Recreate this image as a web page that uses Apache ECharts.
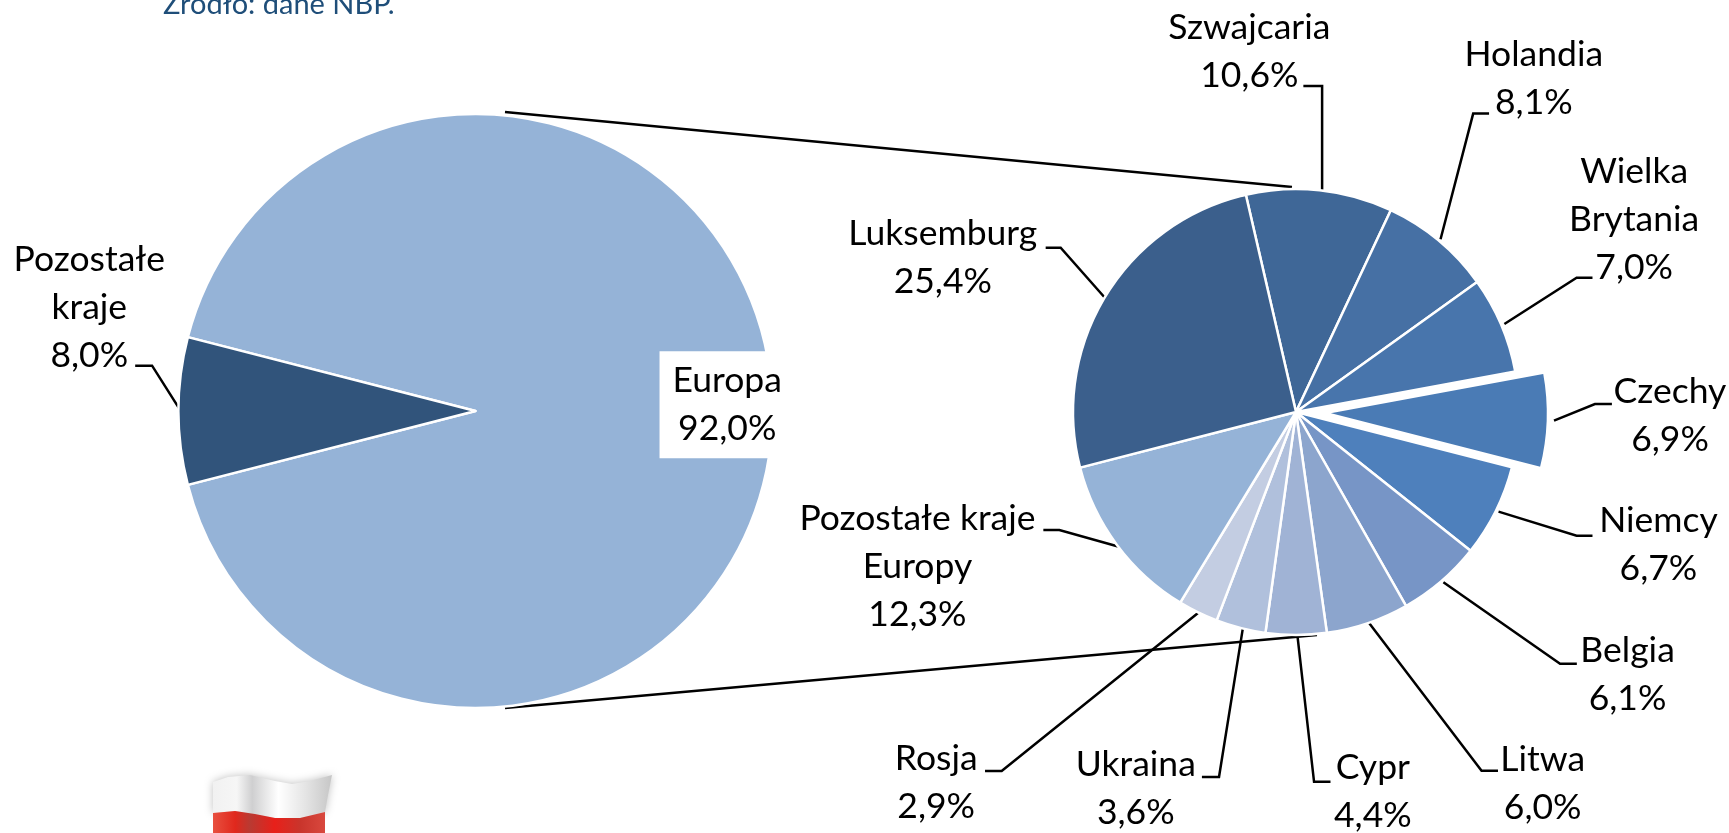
<!DOCTYPE html>
<html>
<head>
<meta charset="utf-8">
<style>html,body{margin:0;padding:0;background:#fff}#c{width:1729px;height:833px}</style>
<script src="https://cdn.jsdelivr.net/npm/echarts@6/dist/echarts.min.js"></script>
</head>
<body>
<div id="c"></div>
<script>
// ---- data ----
const overviewNames = ['Europa', 'Pozostałe\nkraje'];
const overviewValues = [92.0, 8.0];
const overviewColors = ['#95B3D7', '#31547B'];

const europeNames = ['Szwajcaria', 'Holandia', 'Wielka\nBrytania', 'Czechy', 'Niemcy', 'Belgia', 'Litwa', 'Cypr', 'Ukraina', 'Rosja', 'Pozostałe kraje\nEuropy', 'Luksemburg'];
const europeValues = [10.6, 8.1, 7.0, 6.9, 6.7, 6.1, 6.0, 4.4, 3.6, 2.9, 12.3, 25.4];
const europeColors = ['#3F6797', '#4670A4', '#4875AC', '#4A7BB5', '#4E80BC', '#7795C6', '#8CA5CD', '#A0B3D5', '#B0C0DC', '#C3CDE2', '#95B3D7', '#3B5F8C'];
const explodedName = 'Czechy';
const sourceNote = 'Źródło: dane NBP.';

// ---- layout of annotations (px) ----
const FONT = 'Lato, "Open Sans", sans-serif';
const K = 1729 / 1568;
const P = (a) => a.map(p => [p[0] * K, p[1] * K]);
const overviewLabels = [
  { c: [659.5, 367], line: null },
  { c: [81, 279], line: [[122.6, 331.6], [137.9, 331.6], [164.3, 373.3]] }
];
const europeLabels = [
  { c: [1133, 47],   line: [[1182, 78], [1199, 78], [1199, 172]] },
  { c: [1391, 71],   line: [[1350.4, 103], [1336, 103], [1306.4, 217]] },
  { c: [1482, 199],  line: [[1444.2, 251.8], [1429.8, 251.8], [1364.3, 293.8]] },
  { c: [1514.5, 377], line: [[1461.8, 366.4], [1446.4, 366.4], [1409.3, 381.5]] },
  { c: [1504, 494],  line: [[1444.2, 485.8], [1429.8, 485.8], [1359, 464]] },
  { c: [1476, 612],  line: [[1430, 602], [1414.8, 602], [1309, 528]] },
  { c: [1399, 711],  line: [[1358.5, 699], [1343.6, 699], [1241.6, 565]] },
  { c: [1245, 718],  line: [[1206.6, 709], [1191.7, 709], [1176.8, 578]] },
  { c: [1030, 715],  line: [[1090, 704.6], [1105.5, 704.6], [1127, 570.5]] },
  { c: [849, 710],   line: [[893.3, 699.2], [908.4, 699.2], [1087.3, 555.3]] },
  { c: [832, 514],   line: [[946.2, 480.6], [960.7, 480.6], [1014.8, 495.8]] },
  { c: [855, 234],   line: [[948.3, 224.6], [961.9, 224.6], [1002, 270]] }
];

const pct = v => v.toFixed(1).replace('.', ',') + '%';
const layoutFrom = table => params => {
  const t = table[params.dataIndex];
  if (!t) return {};
  const o = { x: t.c[0] * K, y: t.c[1] * K, align: 'center', verticalAlign: 'middle' };
  if (t.line) o.labelLinePoints = P(t.line);
  return o;
};
const commonLabel = {
  show: true, position: 'outside', color: '#000', fontFamily: FONT, fontSize: 35.5, lineHeight: 48,
  align: 'center', formatter: p => p.name + '\n' + pct(p.value)
};
const commonLine = { show: true, smooth: false, length: 10, length2: 10, lineStyle: { color: '#000', width: 2.5 } };

const flagWhite = { type: 'linear', x: 0, y: 0, x2: 1, y2: 0, colorStops: [
  { offset: 0, color: '#f1f1f1' }, { offset: 0.2, color: '#f6f6f6' }, { offset: 0.33, color: '#cfcfd0' },
  { offset: 0.55, color: '#ffffff' }, { offset: 0.78, color: '#e4e4e4' }, { offset: 1, color: '#c6c6c6' }] };
const flagRed = { type: 'linear', x: 0, y: 0, x2: 1, y2: 0, colorStops: [
  { offset: 0, color: '#e8503f' }, { offset: 0.2, color: '#e0281d' }, { offset: 0.33, color: '#b93a32' },
  { offset: 0.55, color: '#e8201a' }, { offset: 0.78, color: '#c9352c' }, { offset: 1, color: '#d9483e' }] };

// exploded slice: the second pie is shifted along the slice's own mid-angle
const EU_CENTER = [1296, 412], EU_RADIUS = 223, EU_START = 103, EXPLODE = 29;
const total = europeValues.reduce((a, b) => a + b, 0);
const idx = europeNames.indexOf(explodedName);
const before = europeValues.slice(0, idx).reduce((a, b) => a + b, 0);
const midRad = (EU_START - (before + europeValues[idx] / 2) / total * 360) * Math.PI / 180;
const explodedCenter = [EU_CENTER[0] + Math.cos(midRad) * EXPLODE, EU_CENTER[1] - Math.sin(midRad) * EXPLODE];
const hidden = { color: 'rgba(0,0,0,0)', borderColor: 'rgba(0,0,0,0)', borderWidth: 0 };

const option = {
  animation: false,
  backgroundColor: '#fff',
  title: { text: sourceNote, left: 158, top: -15, textStyle: { color: '#1F4E79', fontFamily: FONT, fontSize: 29, fontWeight: 'normal' } },
  tooltip: { show: false },
  series: [
    {
      type: 'pie', center: [475.5, 411], radius: [0, 297], startAngle: 165.6, clockwise: true,
      silent: true, avoidLabelOverlap: false,
      itemStyle: { borderColor: '#fff', borderWidth: 2.5 },
      label: commonLabel, labelLine: commonLine, labelLayout: layoutFrom(overviewLabels),
      data: overviewNames.map((n, i) => ({
        name: n, value: overviewValues[i], itemStyle: { color: overviewColors[i] },
        label: i === 0 ? { backgroundColor: '#fff', padding: [7, 13, 4, 13] } : {},
        labelLine: i === 0 ? { show: false } : {}
      }))
    },
    {
      type: 'pie', center: EU_CENTER, radius: [0, EU_RADIUS], startAngle: EU_START, clockwise: true,
      silent: true, avoidLabelOverlap: false,
      itemStyle: { borderColor: '#fff', borderWidth: 2.5 },
      label: commonLabel, labelLine: commonLine, labelLayout: layoutFrom(europeLabels),
      data: europeNames.map((n, i) => ({
        name: n, value: europeValues[i],
        itemStyle: n === explodedName ? hidden : { color: europeColors[i] }
      }))
    },
    {
      type: 'pie', center: explodedCenter, radius: [0, EU_RADIUS], startAngle: EU_START, clockwise: true,
      silent: true, avoidLabelOverlap: false,
      itemStyle: { borderColor: '#fff', borderWidth: 2.5 },
      label: { show: false }, labelLine: { show: false },
      data: europeNames.map((n, i) => ({
        name: n, value: europeValues[i],
        itemStyle: n === explodedName ? { color: europeColors[i] } : hidden
      }))
    }
  ],
  graphic: [
    { type: 'line', silent: true, shape: { x1: 505, y1: 112, x2: 1292, y2: 187 }, style: { stroke: '#000', lineWidth: 2.5 } },
    { type: 'line', silent: true, shape: { x1: 505, y1: 708, x2: 1317, y2: 635 }, style: { stroke: '#000', lineWidth: 2.5 } },
    { type: 'polygon', silent: true, shape: { points: [[213, 782], [228, 777], [250, 775], [275, 781], [292, 784], [310, 781], [332, 775], [328, 795], [325, 812], [300, 818], [275, 818], [255, 814], [235, 811], [213, 813]] },
      style: { fill: flagWhite, shadowBlur: 8, shadowColor: 'rgba(0,0,0,0.25)' } },
    { type: 'polygon', silent: true, shape: { points: [[213, 813], [235, 811], [255, 814], [275, 818], [300, 818], [325, 812], [325, 840], [213, 840]] },
      style: { fill: flagRed } }
  ]
};
const chart = echarts.init(document.getElementById('c'), null, { renderer: 'canvas' });
chart.setOption(option);
</script>
</body>
</html>
